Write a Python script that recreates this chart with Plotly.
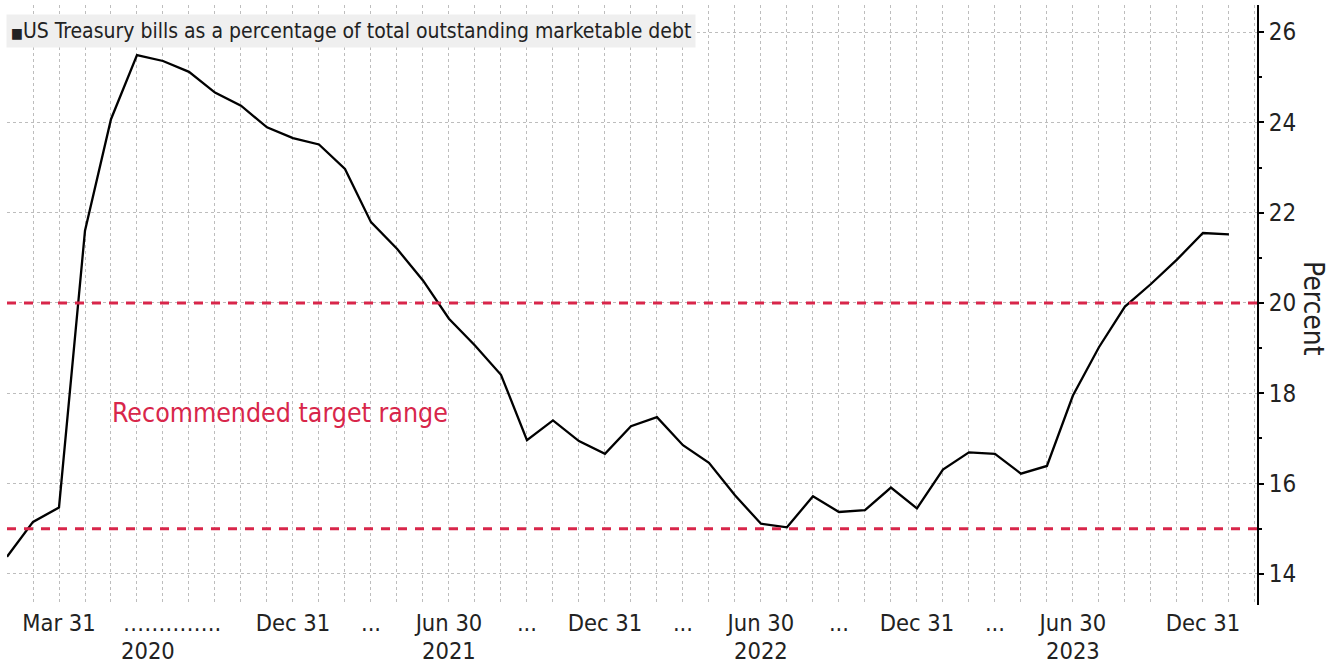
import plotly.graph_objects as go

# ---- data ----
months = [f"{y}-{m:02d}" for y in range(2020, 2024) for m in range(1, 13)]
bills_pct = [14.38, 15.15, 15.47, 21.6, 24.07, 25.49, 25.36, 25.12, 24.66, 24.37,
             23.89, 23.65, 23.51, 22.97, 21.79, 21.2, 20.5, 19.65, 19.06, 18.41,
             16.96, 17.40, 16.94, 16.66, 17.27, 17.47, 16.85, 16.46, 15.74, 15.11,
             15.03, 15.72, 15.37, 15.41, 15.91, 15.45, 16.31, 16.69, 16.66, 16.22,
             16.39, 17.95, 19.02, 19.92, 20.42, 20.96, 21.55, 21.52]
target_range = [15, 20]
series_name = "US Treasury bills as a percentage of total outstanding marketable debt"
band_label = "Recommended target range"

tick_pos = [2, 6.35, 11, 14, 17, 20, 23, 26, 29, 32, 35, 38, 41, 46]
tick_text = ["Mar 31", "\u2026\u2026\u2026\u2026..", "Dec 31", "...",
             "Jun 30", "...", "Dec 31", "...", "Jun 30", "...",
             "Dec 31", "...", "Jun 30", "Dec 31"]
year_pos = [5.42, 17, 29, 41]
year_text = ["2020", "2021", "2022", "2023"]
y_ticks = [14, 16, 18, 20, 22, 24, 26]

FONT = "DejaVu Sans Condensed, DejaVu Sans, Liberation Sans, sans-serif"
RED = "#d8264a"
TXT = "#222222"
GRID = "#bdbdbd"

idx = list(range(len(months)))

fig = go.Figure()
fig.add_trace(go.Scatter(x=idx, y=bills_pct, mode="lines", customdata=months,
                         hovertemplate="%{customdata}: %{y:.2f}%<extra></extra>",
                         line=dict(color="black", width=2.3), showlegend=False))
fig.add_trace(go.Scatter(x=[None], y=[None], xaxis="x2", showlegend=False,
                         hoverinfo="skip"))

for v in target_range:
    fig.add_hline(y=v, line=dict(color=RED, width=3, dash="9px,8px"))

xr = [0, 48.08]
fig.update_layout(
    width=1339, height=664,
    margin=dict(l=7, r=82, t=5, b=59, autoexpand=False),
    paper_bgcolor="white", plot_bgcolor="white",
    font=dict(family=FONT, color=TXT, size=24),
    xaxis=dict(range=xr, tick0=0, dtick=1, showticklabels=False, ticks="",
               showgrid=True, gridcolor=GRID, griddash="dot", gridwidth=1,
               zeroline=False, showline=False, automargin=False),
    xaxis2=dict(overlaying="x", anchor="y", side="bottom", range=xr,
                tickmode="array", tickvals=tick_pos, ticktext=tick_text,
                tickangle=0, automargin=False,
                showgrid=False, zeroline=False, showline=False, ticks="",
                tickfont=dict(size=23.5, color=TXT, family=FONT),
                ticklabelstandoff=1),
    yaxis=dict(side="right", range=[13.31, 26.6], tickmode="array",
               tickvals=y_ticks, ticks="outside", ticklen=5, tickwidth=1.5,
               tickcolor="black", automargin=False,
               minor=dict(dtick=1, tick0=0, ticks="outside", ticklen=3,
                          tickcolor="black", showgrid=False),
               showgrid=True, gridcolor=GRID, griddash="dot", gridwidth=1,
               zeroline=False, showline=True, linecolor="black", linewidth=2,
               tickfont=dict(size=24, color=TXT, family=FONT)),
    hovermode="closest",
)

for xp, yt in zip(year_pos, year_text):
    fig.add_annotation(xref="x", yref="paper", x=xp, y=-0.076,
                       xanchor="center", yanchor="middle", showarrow=False,
                       text=yt, font=dict(size=23.5, color=TXT, family=FONT),
                       borderpad=0)

fig.add_annotation(xref="paper", yref="paper", x=-0.001, y=0.985,
                   xanchor="left", yanchor="top", showarrow=False,
                   text="<span style='font-size:14px'>\u25a0</span>" + series_name,
                   font=dict(size=21, color=TXT, family=FONT),
                   bgcolor="#efefef", borderpad=4)
fig.add_annotation(xref="x", yref="y", x=3.96, y=17.58, xanchor="left",
                   yanchor="middle", showarrow=False, text=band_label,
                   font=dict(size=26.5, color=RED, family=FONT))
fig.add_annotation(xref="paper", yref="paper", x=1.0456, y=0.495,
                   xanchor="center", yanchor="middle", showarrow=False,
                   text="Percent", textangle=90,
                   font=dict(size=28, color=TXT, family=FONT))

fig.write_html("out.html", config={"displayModeBar": False},
               post_script="document.body.style.margin='0';document.body.style.overflow='hidden';")
